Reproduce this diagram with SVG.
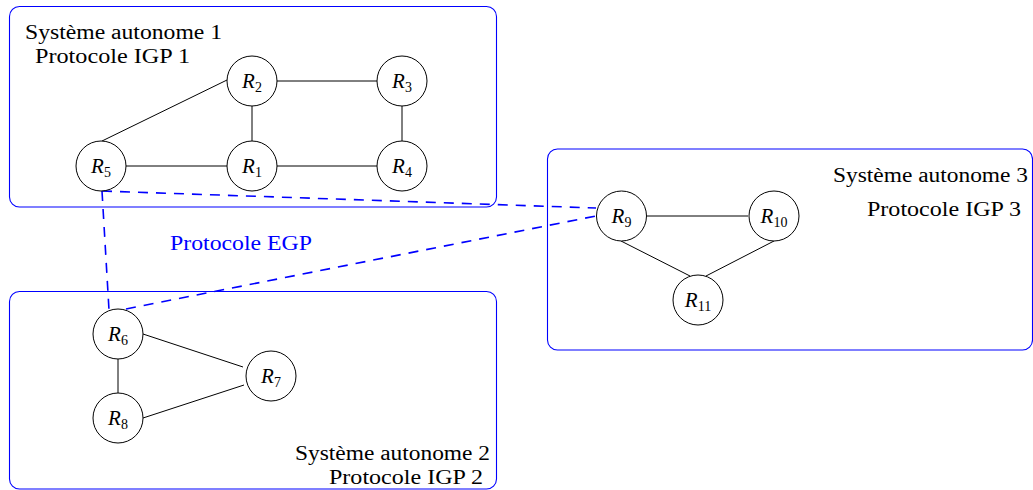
<svg xmlns="http://www.w3.org/2000/svg" width="1033" height="490" viewBox="0 0 1033 490">
<style>
.as{fill:none;stroke:#0000ff;stroke-width:1.1}
.nd{fill:#fff;stroke:#000;stroke-width:1}
.ed{stroke:#000;stroke-width:1;fill:none}
.egp{stroke:#0000ff;stroke-width:1.6;stroke-dasharray:10 8;fill:none}
.t{font-family:"Liberation Serif","DejaVu Serif",serif;font-size:20px;fill:#000}
.lb{font-family:"Liberation Serif","DejaVu Serif",serif;font-size:21px;fill:#000;text-anchor:middle}
.lb .r{font-style:italic}
.lb .s{font-size:14px}
</style>
<rect width="1033" height="490" fill="#fff"/>
<g id="as1">
<rect class="as" x="9.5" y="6.5" width="487" height="200.5" rx="10"/>
<text class="t" x="25" y="39" textLength="197" lengthAdjust="spacingAndGlyphs">Système autonome 1</text>
<text class="t" x="35" y="63" textLength="155" lengthAdjust="spacingAndGlyphs">Protocole IGP 1</text>
</g>
<g id="as2">
<rect class="as" x="9.5" y="291.5" width="487" height="197.5" rx="10"/>
<text class="t" x="295" y="460" textLength="195" lengthAdjust="spacingAndGlyphs">Système autonome 2</text>
<text class="t" x="329" y="484" textLength="154" lengthAdjust="spacingAndGlyphs">Protocole IGP 2</text>
</g>
<g id="as3">
<rect class="as" x="547.5" y="149" width="485" height="201" rx="10"/>
<text class="t" x="833" y="182" textLength="195" lengthAdjust="spacingAndGlyphs">Système autonome 3</text>
<text class="t" x="867" y="216" textLength="154" lengthAdjust="spacingAndGlyphs">Protocole IGP 3</text>
</g>
<g id="egp-label">
<text class="t" x="170" y="250" fill="#0000ff" style="fill:#0000ff" textLength="142" lengthAdjust="spacingAndGlyphs">Protocole EGP</text>
</g>
<g id="connectors">
<line class="ed" x1="102" y1="141" x2="227" y2="80"/>
<line class="ed" x1="277" y1="81" x2="377" y2="81"/>
<line class="ed" x1="252" y1="106" x2="252" y2="141"/>
<line class="ed" x1="402" y1="106" x2="402" y2="141"/>
<line class="ed" x1="126" y1="166" x2="227" y2="166"/>
<line class="ed" x1="277" y1="166" x2="377" y2="166"/>
<line class="ed" x1="647" y1="216" x2="748" y2="216"/>
<line class="ed" x1="621" y1="241" x2="690" y2="276"/>
<line class="ed" x1="774" y1="241" x2="706" y2="276"/>
<line class="ed" x1="143" y1="334" x2="243" y2="367"/>
<line class="ed" x1="143" y1="418" x2="244" y2="385"/>
<line class="ed" x1="118" y1="359" x2="118" y2="393"/>
<line class="egp" x1="102" y1="191" x2="596" y2="208"/>
<line class="egp" x1="102" y1="191" x2="109" y2="310"/>
<line class="egp" x1="126" y1="309" x2="596" y2="216"/>
</g>
<g id="R1"><circle class="nd" cx="252" cy="166" r="25"/><text class="lb" x="252" y="173"><tspan class="r">R</tspan><tspan class="s" dy="4">1</tspan></text></g>
<g id="R2"><circle class="nd" cx="252" cy="81" r="25"/><text class="lb" x="252" y="88"><tspan class="r">R</tspan><tspan class="s" dy="4">2</tspan></text></g>
<g id="R3"><circle class="nd" cx="402" cy="81" r="25"/><text class="lb" x="402" y="88"><tspan class="r">R</tspan><tspan class="s" dy="4">3</tspan></text></g>
<g id="R4"><circle class="nd" cx="402" cy="166" r="25"/><text class="lb" x="402" y="173"><tspan class="r">R</tspan><tspan class="s" dy="4">4</tspan></text></g>
<g id="R5"><circle class="nd" cx="101" cy="166" r="25"/><text class="lb" x="101" y="173"><tspan class="r">R</tspan><tspan class="s" dy="4">5</tspan></text></g>
<g id="R6"><circle class="nd" cx="118" cy="334" r="25"/><text class="lb" x="118" y="341"><tspan class="r">R</tspan><tspan class="s" dy="4">6</tspan></text></g>
<g id="R7"><circle class="nd" cx="271" cy="376" r="25"/><text class="lb" x="271" y="383"><tspan class="r">R</tspan><tspan class="s" dy="4">7</tspan></text></g>
<g id="R8"><circle class="nd" cx="118" cy="418" r="25"/><text class="lb" x="118" y="425"><tspan class="r">R</tspan><tspan class="s" dy="4">8</tspan></text></g>
<g id="R9"><circle class="nd" cx="621.5" cy="216" r="25"/><text class="lb" x="621.5" y="223"><tspan class="r">R</tspan><tspan class="s" dy="4">9</tspan></text></g>
<g id="R10"><circle class="nd" cx="774" cy="216" r="25"/><text class="lb" x="774" y="223"><tspan class="r">R</tspan><tspan class="s" dy="4">10</tspan></text></g>
<g id="R11"><circle class="nd" cx="698" cy="300" r="25"/><text class="lb" x="698" y="307"><tspan class="r">R</tspan><tspan class="s" dy="4">11</tspan></text></g>
</svg>
